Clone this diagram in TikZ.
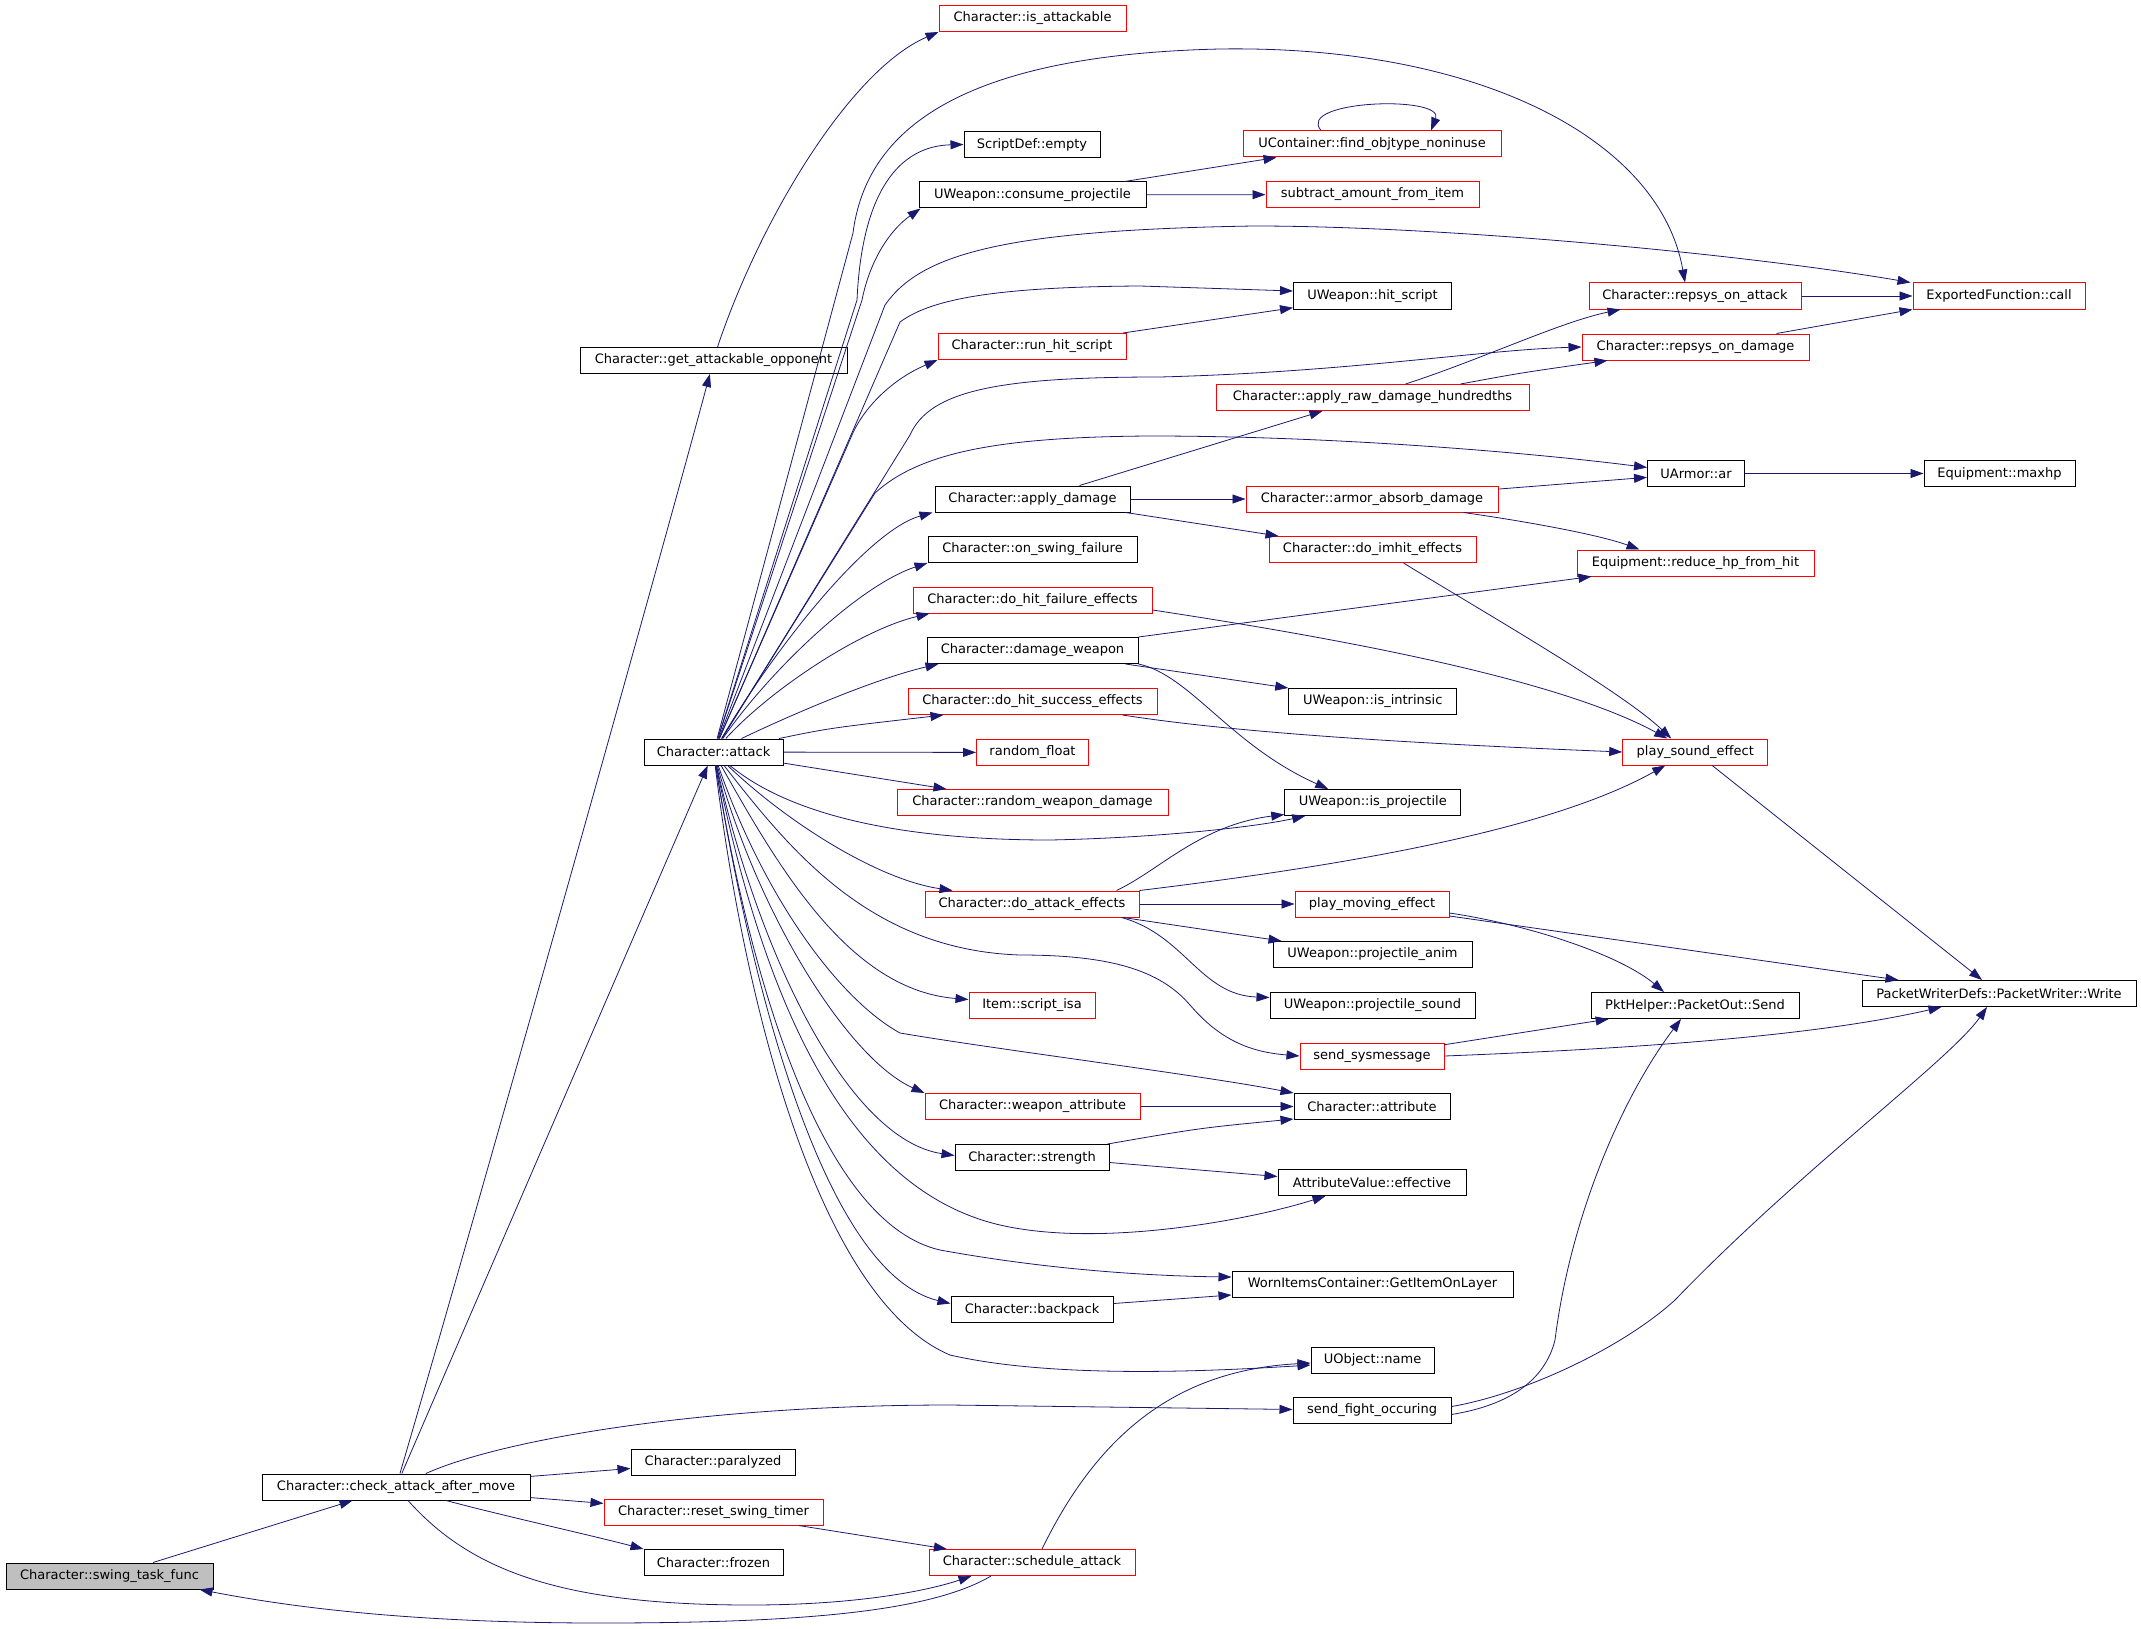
\documentclass[tikz,border=0pt]{standalone}
\usepackage{fontspec}
\setmainfont{DejaVu Sans}
\usetikzlibrary{arrows.meta}
\definecolor{edgeblue}{HTML}{191970}
\definecolor{linkred}{HTML}{FF0000}
\definecolor{rootgray}{HTML}{BFBFBF}
\begin{document}
\begin{tikzpicture}[x=1pt,y=-1pt,
   fn/.style={draw=black, line width=1pt, minimum height=26pt, inner sep=0pt,
              font=\fontsize{13}{15}\selectfont},
   fnred/.style={fn, draw=linkred},
   fnroot/.style={fn, fill=rootgray},
   call/.style={draw=edgeblue, line width=0.8pt, -{Triangle[length=13pt,width=9pt]}}]
   \useasboundingbox (0,0) rectangle (2141,1629);

   \node (swing)      [fnroot, minimum width=207] at (109.5,1576) {Character::swing\_task\_func};
   \node (check)      [fn, minimum width=268]     at (396,1487)   {Character::check\_attack\_after\_move};
   \node (opponent)   [fn, minimum width=267]     at (713.5,360.5) {Character::get\_attackable\_opponent};
   \node (attack)     [fn, minimum width=139]     at (713.5,752)  {Character::attack};
   \node (paralyzed)  [fn, minimum width=164]     at (713,1462)   {Character::paralyzed};
   \node (resettimer) [fnred, minimum width=219]  at (713.5,1512) {Character::reset\_swing\_timer};
   \node (frozen)     [fn, minimum width=139]     at (713.5,1562.5) {Character::frozen};

   \node (isattack)   [fnred, minimum width=187]  at (1032.5,18.5) {Character::is\_attackable};
   \node (sdempty)    [fn, minimum width=136]     at (1032,144.5) {ScriptDef::empty};
   \node (consume)    [fn, minimum width=227]     at (1032.5,195) {UWeapon::consume\_projectile};
   \node (runhit)     [fnred, minimum width=188]  at (1032,346.5) {Character::run\_hit\_script};
   \node (applydmg)   [fn, minimum width=195]     at (1032.5,499) {Character::apply\_damage};
   \node (swingfail)  [fn, minimum width=209]     at (1032.5,549.5) {Character::on\_swing\_failure};
   \node (hitfail)    [fnred, minimum width=239]  at (1032.5,600) {Character::do\_hit\_failure\_effects};
   \node (dmgweapon)  [fn, minimum width=211]     at (1032.5,650.5) {Character::damage\_weapon};
   \node (hitsucc)    [fnred, minimum width=249]  at (1032.5,701.5) {Character::do\_hit\_success\_effects};
   \node (randfloat)  [fnred, minimum width=112]  at (1032.5,752.5) {random\_float};
   \node (randwdmg)   [fnred, minimum width=271]  at (1032.5,802.5) {Character::random\_weapon\_damage};
   \node (atteff)     [fnred, minimum width=214]  at (1032,904)   {Character::do\_attack\_effects};
   \node (scriptisa)  [fnred, minimum width=126]  at (1032,1005.5) {Item::script\_isa};
   \node (weapattr)   [fnred, minimum width=215]  at (1032.5,1106.5) {Character::weapon\_attribute};
   \node (strength)   [fn, minimum width=154]     at (1032,1157.5) {Character::strength};
   \node (backpack)   [fn, minimum width=162]     at (1032,1309.5) {Character::backpack};
   \node (schedule)   [fnred, minimum width=206]  at (1032,1562.5) {Character::schedule\_attack};

   \node (findobj)    [fnred, minimum width=258]  at (1372,144)   {UContainer::find\_objtype\_noninuse};
   \node (subtract)   [fnred, minimum width=213]  at (1372.5,194.5) {subtract\_amount\_from\_item};
   \node (hitscript)  [fn, minimum width=158]     at (1372.5,296) {UWeapon::hit\_script};
   \node (rawdmg)     [fnred, minimum width=313]  at (1372.5,397.5) {Character::apply\_raw\_damage\_hundredths};
   \node (absorb)     [fnred, minimum width=252]  at (1372,499)   {Character::armor\_absorb\_damage};
   \node (imhit)      [fnred, minimum width=207]  at (1372.5,549.5) {Character::do\_imhit\_effects};
   \node (intrinsic)  [fn, minimum width=168]     at (1372.75,701.5) {UWeapon::is\_intrinsic};
   \node (isproj)     [fn, minimum width=176]     at (1372.75,802.5) {UWeapon::is\_projectile};
   \node (playmove)   [fnred, minimum width=154]  at (1372,904)   {play\_moving\_effect};
   \node (projanim)   [fn, minimum width=199]     at (1372.5,954.5) {UWeapon::projectile\_anim};
   \node (projsound)  [fn, minimum width=205]     at (1372.5,1005.5) {UWeapon::projectile\_sound};
   \node (sysmsg)     [fnred, minimum width=144]  at (1372,1056)  {send\_sysmessage};
   \node (attribute)  [fn, minimum width=156]     at (1372,1106.5) {Character::attribute};
   \node (effective)  [fn, minimum width=188]     at (1372,1182.5) {AttributeValue::effective};
   \node (getitem)    [fn, minimum width=281]     at (1372.5,1284) {WornItemsContainer::GetItemOnLayer};
   \node (uname)      [fn, minimum width=123]     at (1372.5,1360) {UObject::name};
   \node (fight)      [fn, minimum width=158]     at (1372,1410.5) {send\_fight\_occuring};

   \node (repatt)     [fnred, minimum width=212]  at (1695,296)   {Character::repsys\_on\_attack};
   \node (repdmg)     [fnred, minimum width=227]  at (1695.5,347) {Character::repsys\_on\_damage};
   \node (uarmor)     [fn, minimum width=97]      at (1696,473.5) {UArmor::ar};
   \node (reducehp)   [fnred, minimum width=237]  at (1695.5,563) {Equipment::reduce\_hp\_from\_hit};
   \node (playsound)  [fnred, minimum width=145]  at (1695.25,752) {play\_sound\_effect};
   \node (pktsend)    [fn, minimum width=208]     at (1695,1005.5) {PktHelper::PacketOut::Send};

   \node (expcall)    [fnred, minimum width=172]  at (1999,296)   {ExportedFunction::call};
   \node (maxhp)      [fn, minimum width=151]     at (1999.5,473.5) {Equipment::maxhp};
   \node (pktwrite)   [fn, minimum width=274]     at (1999,993.5) {PacketWriterDefs::PacketWriter::Write};

   \draw[call] (swing) -- (check);
   \draw[call] (check) .. controls (480,1200) and (660,560) .. (opponent);
   \draw[call] (check) -- (attack);
   \draw[call] (check) .. controls (500,1440) and (700,1405) .. (950,1405) -- (fight);
   \draw[call] (check) -- (paralyzed);
   \draw[call] (check) -- (resettimer);
   \draw[call] (check) .. controls (500,1515) and (590,1535) .. (frozen.north west);
   \draw[call] (check) .. controls (470,1570) and (560,1605) .. (750,1605)
                       .. controls (860,1605) and (930,1590) .. ([xshift=43]schedule.south west);
   \draw[call] ([xshift=-41]schedule.south) .. controls (930,1612) and (800,1623) .. (600,1623)
                       .. controls (400,1623) and (280,1605) .. ([xshift=-14]swing.south east);
   \draw[call] ([xshift=10]schedule.north) .. controls (1100,1430) and (1180,1370) .. ([yshift=-3]uname.west);
   \draw[call] (resettimer) -- (schedule);
   \draw[call] ([xshift=4]opponent.north) .. controls (760,220) and (850,70) .. (isattack.south west);

   \draw[call] (attack) -- (853,233) .. controls (866,130) and (960,55) .. (1220,49)
                        .. controls (1480,45) and (1660,140) .. ([xshift=-10]repatt.north);
   \draw[call] (attack) -- (857,300) .. controls (862,190) and (900,146) .. (sdempty.west);
   \draw[call] (attack) -- (862,300) .. controls (870,260) and (890,230) .. ([xshift=2]consume.south west);
   \draw[call] (attack) -- (885,305) .. controls (920,255) and (1000,230) .. (1254,226)
                        .. controls (1450,226) and (1750,255) .. ([xshift=-2]expcall.north west);
   \draw[call] (attack) -- (900,322) .. controls (930,300) and (990,287) .. (1140,286) -- ([yshift=5]hitscript.west);
   \draw[call] (attack) -- (852,435) .. controls (865,405) and (895,378) .. (runhit.south west);
   \draw[call] (attack) -- (910,435) .. controls (930,390) and (1000,377) .. (1160,377)
                        .. controls (1350,372) and (1480,350) .. (repdmg.west);
   \draw[call] (attack) -- (875,493) .. controls (920,452) and (1000,437) .. (1150,436)
                        .. controls (1350,436) and (1550,455) .. ([yshift=6]uarmor.west);
   \draw[call] (attack) .. controls (780,640) and (870,530) .. ([xshift=-2]applydmg.south west);
   \draw[call] (attack) .. controls (770,670) and (860,585) .. (swingfail.south west);
   \draw[call] (attack) .. controls (770,690) and (860,630) .. ([xshift=17]hitfail.south west);
   \draw[call] (attack) .. controls (780,720) and (870,680) .. ([xshift=12]dmgweapon.south west);
   \draw[call] (attack) .. controls (830,728) .. ([xshift=36]hitsucc.south west);
   \draw[call] (attack) -- (randfloat);
   \draw[call] (attack) -- ([xshift=50]randwdmg.north west);
   \draw[call] (attack) .. controls (790,815) and (900,840) .. (1050,840)
                        .. controls (1150,838) and (1250,828) .. ([xshift=21]isproj.south west);
   \draw[call] (attack) .. controls (790,825) and (880,880) .. ([xshift=28]atteff.north west);
   \draw[call] (attack) .. controls (780,870) and (850,990) .. ([yshift=6]scriptisa.west);
   \draw[call] (attack) .. controls (790,850) and (870,950) .. (1020,955)
                        .. controls (1110,955) and (1160,970) .. (1190,1005)
                        .. controls (1220,1040) and (1250,1052) .. (sysmsg.west);
   \draw[call] (attack) .. controls (765,900) and (840,1000) .. (900,1033)
                        .. controls (1000,1050) and (1200,1075) .. (attribute.north west);
   \draw[call] (attack) .. controls (760,920) and (850,1060) .. (weapattr.north west);
   \draw[call] (attack) .. controls (760,960) and (850,1140) .. ([yshift=2]strength.west);
   \draw[call] (attack) .. controls (765,1010) and (850,1190) .. (1000,1225)
                        .. controls (1100,1248) and (1250,1220) .. ([xshift=48]effective.south west);
   \draw[call] (attack) .. controls (755,1010) and (830,1225) .. (940,1250)
                        .. controls (1050,1270) and (1150,1276) .. ([yshift=7]getitem.west);
   \draw[call] (attack) .. controls (755,1010) and (830,1275) .. ([yshift=6]backpack.west);
   \draw[call] (attack) .. controls (745,1010) and (820,1300) .. (950,1355)
                        .. controls (1050,1378) and (1200,1372) .. ([yshift=-5]uname.west);

   \draw[call] (consume) -- (subtract);
   \draw[call] ([xshift=-22]consume.north east) -- ([xshift=34]findobj.south west);
   \draw[call] ([xshift=-51]findobj.north) .. controls (1295,100) and (1445,95) .. ([xshift=59]findobj.north);
   \draw[call] (runhit) -- (hitscript);
   \draw[call] ([xshift=-51]applydmg.north east) -- ([xshift=-50]rawdmg.south);
   \draw[call] (applydmg) -- (absorb);
   \draw[call] ([xshift=-5]applydmg.south east) -- ([xshift=10]imhit.north west);
   \draw[call] (dmgweapon.north east) -- ([xshift=15]reducehp.south west);
   \draw[call] ([xshift=-13]dmgweapon.south east) -- (intrinsic.north west);
   \draw[call] (dmgweapon.south east) .. controls (1190,675) and (1230,745) .. ([xshift=44]isproj.north west);
   \draw[call] ([yshift=-10]hitfail.east) .. controls (1350,640) and (1560,680) .. ([xshift=-28]playsound.north);
   \draw[call] ([xshift=-35]hitsucc.south east) .. controls (1250,735) and (1450,745) .. (playsound.west);
   \draw[call] (atteff) -- (playmove);
   \draw[call] (atteff) -- (projanim);
   \draw[call] ([xshift=-18]atteff.south east) .. controls (1185,935) and (1200,995) .. ([yshift=8]projsound.west);
   \draw[call] ([xshift=-23]atteff.north east) .. controls (1160,870) and (1200,825) .. ([yshift=-12]isproj.west);
   \draw[call] (atteff.north east) .. controls (1350,865) and (1550,830) .. ([xshift=-30]playsound.south);
   \draw[call] (weapattr) -- (attribute);
   \draw[call] ([xshift=-2]strength.north east) .. controls (1200,1128) .. ([yshift=1]attribute.south west);
   \draw[call] ([yshift=-5]strength.east) -- ([yshift=6]effective.west);
   \draw[call] ([yshift=6]backpack.east) -- ([yshift=-11]getitem.west);

   \draw[call] ([xshift=33]rawdmg.north) .. controls (1480,360) and (1560,322) .. ([xshift=32]repatt.south west);
   \draw[call] ([xshift=88]rawdmg.north) .. controls (1520,373) .. ([xshift=26]repdmg.south west);
   \draw[call] (absorb) -- (uarmor);
   \draw[call] ([xshift=-35]absorb.south east) .. controls (1530,522) and (1600,535) .. ([xshift=63]reducehp.north west);
   \draw[call] ([xshift=31]imhit.south) .. controls (1480,610) and (1620,690) .. ([xshift=-24]playsound.north);
   \draw[call] ([yshift=-9]playmove.east) .. controls (1530,925) and (1620,955) .. ([xshift=-31]pktsend.north);
   \draw[call] ([yshift=-12]playmove.east) -- ([xshift=37]pktwrite.north west);
   \draw[call] (sysmsg) -- (pktsend);
   \draw[call] (sysmsg.east) .. controls (1650,1048) and (1820,1035) .. ([xshift=80]pktwrite.south west);
   \draw[call] ([yshift=-4]fight.east) .. controls (1510,1405) and (1545,1380) .. (1555,1340)
                       .. controls (1570,1220) and (1620,1100) .. ([xshift=-14]pktsend.south);
   \draw[call] ([yshift=4]fight.east) .. controls (1520,1395) and (1620,1350) .. (1675,1300)
                       .. controls (1800,1170) and (1950,1060) .. ([xshift=-12]pktwrite.south);

   \draw[call] (repatt) -- (expcall);
   \draw[call] ([xshift=-33]repdmg.north east) -- (expcall.south west);
   \draw[call] (uarmor) -- (maxhp);
   \draw[call] (playsound) -- (pktwrite);
\end{tikzpicture}
\end{document}
